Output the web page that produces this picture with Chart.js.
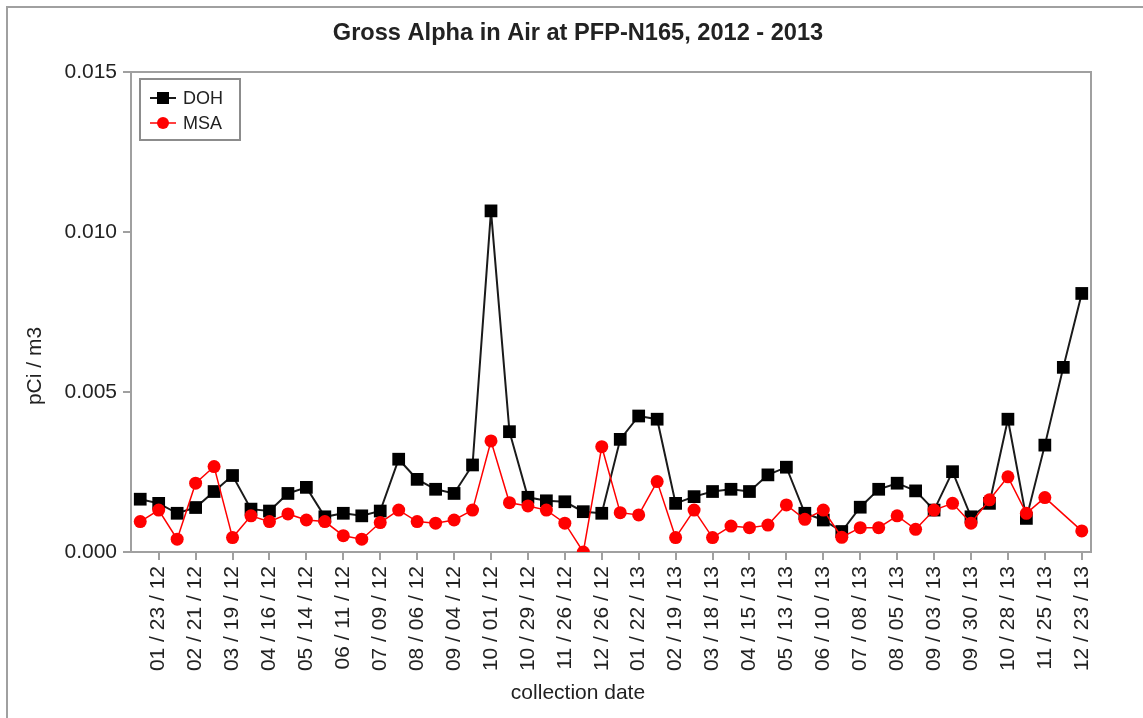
<!DOCTYPE html>
<html lang="en">
<head>
  <meta charset="UTF-8" />
  <title>Gross Alpha in Air at PFP-N165, 2012 - 2013</title>
  <script src="https://cdn.jsdelivr.net/npm/chart.js"></script>
  <style>
    html, body { margin: 0; padding: 0; background: #fff; }
    #wrap { position: relative; width: 1143px; height: 718px; }
  </style>
</head>
<body>
  <div id="wrap"><canvas id="alphaChart"></canvas></div>

  <script>
    // labelled dates (every other sample)
    const tickDates = [
      "01 / 23 / 12", "02 / 21 / 12", "03 / 19 / 12", "04 / 16 / 12", "05 / 14 / 12",
      "06 / 11 / 12", "07 / 09 / 12", "08 / 06 / 12", "09 / 04 / 12", "10 / 01 / 12",
      "10 / 29 / 12", "11 / 26 / 12", "12 / 26 / 12", "01 / 22 / 13", "02 / 19 / 13",
      "03 / 18 / 13", "04 / 15 / 13", "05 / 13 / 13", "06 / 10 / 13", "07 / 08 / 13",
      "08 / 05 / 13", "09 / 03 / 13", "09 / 30 / 13", "10 / 28 / 13", "11 / 25 / 13",
      "12 / 23 / 13"
    ];

    const dohValues = [
      0.00165, 0.00152, 0.00121, 0.00139, 0.00189, 0.00239, 0.00134, 0.00128, 0.00183, 0.00202,
      0.00110, 0.00121, 0.00113, 0.00128, 0.00290, 0.00227, 0.00196, 0.00183, 0.00272, 0.01066,
      0.00376, 0.00171, 0.00160, 0.00157, 0.00126, 0.00121, 0.00352, 0.00425, 0.00415, 0.00152,
      0.00173, 0.00189, 0.00196, 0.00189, 0.00241, 0.00265, 0.00121, 0.00100, 0.00064, 0.00140,
      0.00196, 0.00215, 0.00191, 0.00131, 0.00251, 0.00110, 0.00152, 0.00415, 0.00105, 0.00334,
      0.00577, 0.00808
    ];

    const msaValues = [
      0.00095, 0.00131, 0.00040, 0.00215, 0.00267, 0.00045, 0.00113, 0.00095, 0.00119, 0.00100,
      0.00095, 0.00051, 0.00040, 0.00092, 0.00131, 0.00095, 0.00090, 0.00100, 0.00131, 0.00347,
      0.00154, 0.00144, 0.00131, 0.00090, 0.00000, 0.00329, 0.00123, 0.00116, 0.00220, 0.00045,
      0.00131, 0.00045, 0.00081, 0.00076, 0.00084, 0.00147, 0.00102, 0.00131, 0.00046, 0.00076,
      0.00076, 0.00113, 0.00071, 0.00131, 0.00152, 0.00090, 0.00163, 0.00235, 0.00121, 0.00170,
      null, 0.00066
    ];

    const yTicks = [0, 0.005, 0.010, 0.015];

    // one category per sample, date shown on every second one
    const categories = dohValues.map((v, i) => (i % 2 === 1 ? tickDates[(i - 1) / 2] : ""));

    const FONT = '"Liberation Sans", Arial, sans-serif';
    Chart.defaults.font.family = FONT;
    Chart.defaults.font.size = 21;
    Chart.defaults.color = "#222";

    // frame, titles and the boxed legend in the top-left corner
    const decorPlugin = {
      id: "decor",
      beforeDatasetsDraw(chart) {
        const { ctx, chartArea: a } = chart;
        ctx.save();
        ctx.strokeStyle = "#a0a0a0";
        ctx.lineWidth = 2;
        ctx.beginPath();
        ctx.moveTo(7, chart.height);
        ctx.lineTo(7, 7);
        ctx.lineTo(chart.width, 7);
        ctx.stroke();
        ctx.strokeRect(a.left, a.top, a.right - a.left, a.bottom - a.top);
        ctx.restore();
      },
      afterDraw(chart) {
        const { ctx, chartArea: a } = chart;
        ctx.save();
        ctx.fillStyle = "#222";
        ctx.textAlign = "center";
        ctx.textBaseline = "middle";
        ctx.font = "bold 23.6px " + FONT;
        ctx.fillText("Gross Alpha in Air at PFP-N165, 2012 - 2013", 578, 33);
        ctx.font = "21px " + FONT;
        ctx.fillText("collection date", 578, 693);
        ctx.translate(35, 366);
        ctx.rotate(-Math.PI / 2);
        ctx.fillText("pCi / m3", 0, 0);
        ctx.restore();

        // legend
        const bx = a.left + 9, by = a.top + 7;
        ctx.save();
        ctx.fillStyle = "#fff";
        ctx.fillRect(bx, by, 100, 61);
        ctx.strokeStyle = "#8c8c8c";
        ctx.lineWidth = 2;
        ctx.strokeRect(bx, by, 100, 61);
        chart.data.datasets.forEach((ds, i) => {
          const y = by + 19 + i * 25;
          ctx.strokeStyle = ds.borderColor;
          ctx.lineWidth = ds.borderWidth;
          ctx.beginPath();
          ctx.moveTo(bx + 10, y);
          ctx.lineTo(bx + 36, y);
          ctx.stroke();
          ctx.fillStyle = ds.pointBackgroundColor;
          if (ds.pointStyle === "rect") {
            ctx.fillRect(bx + 17, y - 6, 12, 12);
          } else {
            ctx.beginPath();
            ctx.arc(bx + 23, y, 6, 0, Math.PI * 2);
            ctx.fill();
          }
          ctx.fillStyle = "#222";
          ctx.font = "18px " + FONT;
          ctx.textAlign = "left";
          ctx.textBaseline = "middle";
          ctx.fillText(ds.label, bx + 43, y + 1);
        });
        ctx.restore();
      }
    };

    new Chart(document.getElementById("alphaChart"), {
      type: "line",
      data: {
        labels: categories,
        datasets: [
          {
            label: "DOH",
            data: dohValues,
            borderColor: "#1a1a1a",
            borderWidth: 2,
            pointStyle: "rect",
            pointRadius: 9,
            pointBackgroundColor: "#000",
            pointBorderWidth: 0,
            tension: 0,
            order: 1
          },
          {
            label: "MSA",
            data: msaValues,
            borderColor: "#ff0000",
            borderWidth: 1.5,
            pointStyle: "circle",
            pointRadius: 6.5,
            pointBackgroundColor: "#ff0000",
            pointBorderWidth: 0,
            tension: 0,
            spanGaps: true,
            order: 0
          }
        ]
      },
      options: {
        responsive: true,
        maintainAspectRatio: false,
        animation: false,
        layout: { padding: { left: 0, right: 52, top: 72, bottom: 0 } },
        plugins: {
          legend: { display: false },
          tooltip: { enabled: false }
        },
        scales: {
          x: {
            type: "category",
            offset: true,
            border: { display: false },
            grid: {
              drawOnChartArea: false,
              drawTicks: true,
              tickLength: 8,
              lineWidth: 2,
              color: ctx => (ctx.index % 2 === 1 ? "#a0a0a0" : "rgba(0,0,0,0)")
            },
            ticks: { autoSkip: false, minRotation: 90, maxRotation: 90, padding: 6 },
            afterFit: scale => { scale.height = 166; }
          },
          y: {
            min: yTicks[0],
            max: yTicks[yTicks.length - 1],
            border: { display: false },
            grid: { drawOnChartArea: false, drawTicks: true, tickLength: 8, lineWidth: 2, color: "#a0a0a0" },
            ticks: {
              stepSize: yTicks[1] - yTicks[0],
              padding: 6,
              callback: v => v.toFixed(3)
            },
            afterFit: scale => { scale.width = 131; }
          }
        }
      },
      plugins: [decorPlugin]
    });
  </script>
</body>
</html>
